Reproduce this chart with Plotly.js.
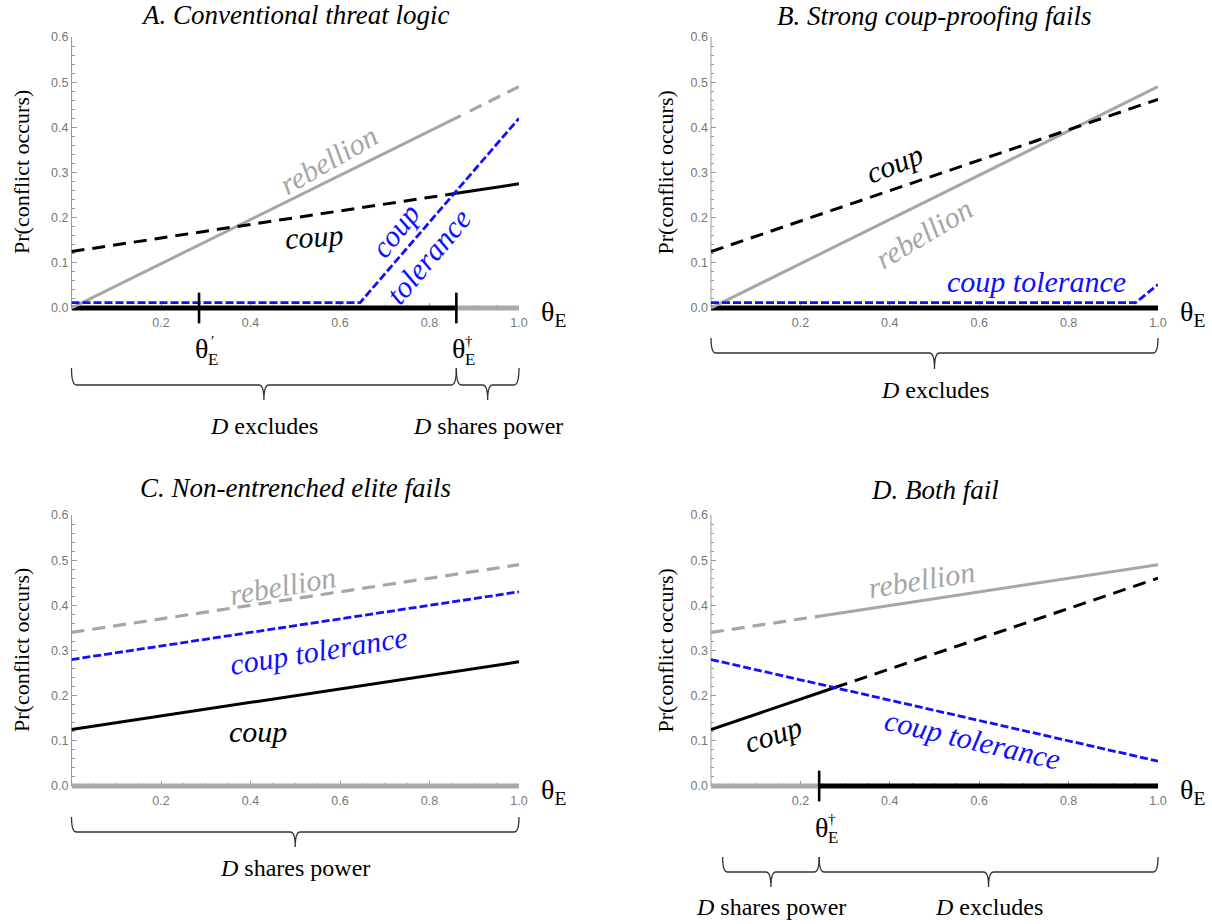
<!DOCTYPE html>
<html><head><meta charset="utf-8">
<script src="https://cdn.plot.ly/plotly-3.0.1.min.js"></script>
<style>body{margin:0;background:#fff}#chart{width:1212px;height:924px}</style>
</head><body><div id="chart"></div>
<script>
// ---------- data ----------
const xTickVals = [0.2, 0.4, 0.6, 0.8, 1.0];
const xTickText = ["0.2", "0.4", "0.6", "0.8", "1.0"];

// Panel A
const thetaPrimeA = 0.285, thetaDaggerA = 0.86;
const rebA_solid_x = [0, 0.87],  rebA_solid_y = [0, 0.426];
const rebA_dash_x  = [0.89, 1.0], rebA_dash_y = [0.436, 0.49];
const coupA_dash_x = [0, 0.86],  coupA_dash_y = [0.125, 0.254];
const coupA_solid_x = [0.86, 1.0], coupA_solid_y = [0.254, 0.275];
const tolA_x = [0, 0.645, 1.0],  tolA_y = [0.012, 0.012, 0.42];
const regA_black_x = [0, 0.86], regA_gray_x = [0.86, 1.0];

// Panel B
const rebB_x = [0, 1.0],  rebB_y = [0, 0.49];
const coupB_x = [0, 1.0], coupB_y = [0.125, 0.462];
const tolB_x = [0, 0.95, 1.0], tolB_y = [0.012, 0.012, 0.052];
const regB_black_x = [0, 1.0];

// Panel C
const rebC_x = [0, 1.0],  rebC_y = [0.34, 0.49];
const tolC_x = [0, 1.0],  tolC_y = [0.28, 0.43];
const coupC_x = [0, 1.0], coupC_y = [0.125, 0.275];
const regC_gray_x = [0, 1.0];

// Panel D
const thetaDaggerD = 0.242;
const rebD_dash_x = [0, 0.242],  rebD_dash_y = [0.34, 0.376];
const rebD_solid_x = [0.242, 1.0], rebD_solid_y = [0.376, 0.49];
const coupD_solid_x = [0, 0.277], coupD_solid_y = [0.125, 0.218];
const coupD_dash_x = [0.277, 1.0], coupD_dash_y = [0.218, 0.46];
const tolD_x = [0, 1.0], tolD_y = [0.28, 0.055];
const regD_gray_x = [0, 0.242], regD_black_x = [0.242, 1.0];

// ---------- styles ----------
const W = 1212, H = 924;
const GRAY = '#a6a6a6', BLACK = '#000000', BLUE = '#1010ff', REGGRAY = '#aaaaaa';
const SERIF = 'Liberation Serif, Times New Roman, serif';
const SANS = 'Liberation Sans, Arial, sans-serif';
const DASH_LONG = '13px,8px', DASH_BLUE = '8px,3px';
const LABEL_SIZE = 30, TITLE_SIZE = 27, BRACE_SIZE = 24, THETA_SIZE = 28;

function ln(x, y, ax, color, width, dash) {
  return {type: 'scatter', mode: 'lines', x: x, y: y, xaxis: 'x' + ax, yaxis: 'y' + ax,
    line: {color: color, width: width, dash: dash || 'solid'}, hoverinfo: 'skip', showlegend: false};
}
function zeros(x) { return x.map(() => 0); }
function ticksAt(xs, ax) {
  return {type: 'scatter', mode: 'markers', x: xs, y: zeros(xs), xaxis: 'x' + ax, yaxis: 'y' + ax,
    marker: {symbol: 'line-ns', size: 22, line: {color: BLACK, width: 2.6}}, cliponaxis: false,
    hoverinfo: 'skip', showlegend: false};
}

const traces = [
  // A
  ln(regA_black_x, zeros(regA_black_x), 1, BLACK, 5),
  ln(regA_gray_x, zeros(regA_gray_x), 1, REGGRAY, 5),
  ln(rebA_solid_x, rebA_solid_y, 1, GRAY, 3),
  ln(rebA_dash_x, rebA_dash_y, 1, GRAY, 3.2, DASH_LONG),
  ln(coupA_dash_x, coupA_dash_y, 1, BLACK, 3, DASH_LONG),
  ln(coupA_solid_x, coupA_solid_y, 1, BLACK, 3),
  ln(tolA_x, tolA_y, 1, BLUE, 2.8, DASH_BLUE),
  ticksAt([thetaPrimeA, thetaDaggerA], 1),
  // B
  ln(regB_black_x, zeros(regB_black_x), 2, BLACK, 5),
  ln(rebB_x, rebB_y, 2, GRAY, 3),
  ln(coupB_x, coupB_y, 2, BLACK, 3, DASH_LONG),
  ln(tolB_x, tolB_y, 2, BLUE, 2.8, DASH_BLUE),
  // C
  ln(regC_gray_x, zeros(regC_gray_x), 3, REGGRAY, 5),
  ln(rebC_x, rebC_y, 3, GRAY, 3.2, DASH_LONG),
  ln(tolC_x, tolC_y, 3, BLUE, 2.8, DASH_BLUE),
  ln(coupC_x, coupC_y, 3, BLACK, 3),
  // D
  ln(regD_gray_x, zeros(regD_gray_x), 4, REGGRAY, 5),
  ln(regD_black_x, zeros(regD_black_x), 4, BLACK, 5),
  ln(rebD_dash_x, rebD_dash_y, 4, GRAY, 3.2, DASH_LONG),
  ln(rebD_solid_x, rebD_solid_y, 4, GRAY, 3),
  ln(coupD_solid_x, coupD_solid_y, 4, BLACK, 3),
  ln(coupD_dash_x, coupD_dash_y, 4, BLACK, 3, DASH_LONG),
  ln(tolD_x, tolD_y, 4, BLUE, 2.8, DASH_BLUE),
  ticksAt([thetaDaggerD], 4)
];

// ---------- layout geometry (pixels -> paper) ----------
const py = p => 1 - p / H;
const YMIN = -0.015, YMAX = 0.6;
const PPU = 271 / 0.6;                 // pixels per y unit
const topZero = 308, botZero = 786;    // pixel row of y = 0
function ydom(zeroPx) {
  return [py(zeroPx - YMIN * PPU), py(zeroPx - YMAX * PPU)];
}
const leftDom = [71.5 / W, 519 / W], rightDom = [711 / W, 1158 / W];

function xaxis(domain, zeroPx) {
  return {domain: domain, range: [0, 1], anchor: 'free', position: py(zeroPx),
    showline: true, linecolor: '#9a9a9a', linewidth: 1, layer: 'below traces',
    ticks: 'inside', ticklen: 5, tickwidth: 1, tickcolor: '#9a9a9a',
    tickmode: 'array', tickvals: xTickVals, ticktext: xTickText, ticklabelstandoff: 3,
    tickfont: {family: SANS, size: 12.5, color: '#777777'},
    minor: {ticks: 'inside', ticklen: 3, tickmode: 'linear', tick0: 0, dtick: 0.05, tickcolor: '#9a9a9a', showgrid: false},
    showgrid: false, zeroline: false, fixedrange: true};
}
function yaxis(domain, xname) {
  return {domain: domain, range: [YMIN, YMAX], anchor: xname,
    showline: false, ticks: 'inside', ticklen: 5, tickwidth: 1, tickcolor: '#9a9a9a',
    tickmode: 'linear', tick0: 0, dtick: 0.1, tickformat: '.1f', ticklabelstandoff: 2,
    tickfont: {family: SANS, size: 12.5, color: '#777777'},
    minor: {ticks: 'inside', ticklen: 3, tickmode: 'linear', tick0: 0, dtick: 0.02, tickcolor: '#9a9a9a', showgrid: false},
    showgrid: false, zeroline: false, layer: 'below traces', fixedrange: true};
}

// ---------- annotations ----------
const anns = [];
function A(o) { anns.push(Object.assign({showarrow: false, xanchor: 'center', yanchor: 'middle'}, o)); }
function txt(ax, x, y, text, color, angle) {
  A({xref: 'x' + ax, yref: 'y' + ax, x: x, y: y, text: '<i>' + text + '</i>', textangle: angle || 0,
     font: {family: SERIF, size: LABEL_SIZE, color: color}});
}
const panels = [
  {ax: 1, title: 'A. Conventional threat logic', zero: topZero, tY: 15, ylabX: -50},
  {ax: 2, title: 'B. Strong coup-proofing fails', zero: topZero, tY: 16, ylabX: -46},
  {ax: 3, title: 'C. Non-entrenched elite fails', zero: botZero, tY: 488, ylabX: -50},
  {ax: 4, title: 'D. Both fail', zero: botZero, tY: 490, ylabX: -46}
];
panels.forEach(p => {
  A({xref: 'x' + p.ax + ' domain', yref: 'paper', x: 0.5, y: py(p.tY), text: '<i>' + p.title + '</i>',
     font: {family: SERIF, size: TITLE_SIZE, color: '#000'}});
  A({xref: 'x' + p.ax + ' domain', yref: 'y' + p.ax, x: 0, xshift: p.ylabX, y: 0.3, text: 'Pr(conflict occurs)',
     textangle: -90, font: {family: SERIF, size: 22, color: '#000'}});
  A({xref: 'x' + p.ax, yref: 'paper', x: 1, xshift: 20, xanchor: 'left', y: py(p.zero + 5),
     text: 'θ<sub>E</sub>', font: {family: SERIF, size: THETA_SIZE, color: '#000'}});
});

// curve labels
txt(1, 0.575, 0.328, 'rebellion', GRAY, -30);
txt(1, 0.543, 0.158, 'coup', BLACK, -4);
txt(1, 0.723, 0.172, 'coup', BLUE, -52);
txt(1, 0.797, 0.114, 'tolerance', BLUE, -50);

txt(2, 0.409, 0.321, 'coup', BLACK, -22);
txt(2, 0.475, 0.166, 'rebellion', GRAY, -31);
txt(2, 0.729, 0.058, 'coup tolerance', BLUE, 0);

txt(3, 0.472, 0.445, 'rebellion', GRAY, -10);
txt(3, 0.553, 0.301, 'coup tolerance', BLUE, -9);
txt(3, 0.417, 0.120, 'coup', BLACK, 0);

txt(4, 0.471, 0.458, 'rebellion', GRAY, -9);
txt(4, 0.138, 0.113, 'coup', BLACK, -18);
txt(4, 0.585, 0.102, 'coup tolerance', BLUE, 13);

// theta threshold labels (theta with stacked superscript and subscript)
function thetaLabel(ax, xv, zeroPx, sup) {
  A({xref: 'x' + ax, yref: 'paper', x: xv, xshift: 2, y: py(zeroPx + 41), text: 'θ',
     font: {family: SERIF, size: THETA_SIZE, color: '#000'}});
  A({xref: 'x' + ax, yref: 'paper', x: xv, xshift: 14, y: py(zeroPx + 51), text: 'E',
     font: {family: SERIF, size: 17, color: '#000'}});
  A({xref: 'x' + ax, yref: 'paper', x: xv, xshift: 13, y: py(zeroPx + 33), text: sup,
     font: {family: SERIF, size: 15, color: '#000'}});
}
thetaLabel(1, thetaPrimeA, topZero, '′');
thetaLabel(1, thetaDaggerA, topZero, '†');
thetaLabel(4, thetaDaggerD, botZero, '†');

// braces
const shapes = [];
function brace(ax, x0, x1, topPx, midPx, tipPx, label, labelPx) {
  const r = 0.011, xm = (x0 + x1) / 2;
  const yT = py(topPx), yM = py(midPx), yP = py(tipPx);
  const path = `M${x0},${yT} Q${x0},${yM} ${x0 + r},${yM} L${xm - r},${yM} Q${xm},${yM} ${xm},${yP} ` +
               `Q${xm},${yM} ${xm + r},${yM} L${x1 - r},${yM} Q${x1},${yM} ${x1},${yT}`;
  shapes.push({type: 'path', xref: 'x' + ax + ' domain', yref: 'paper', path: path,
    line: {color: '#333', width: 1.3}});
  A({xref: 'x' + ax + ' domain', yref: 'paper', x: xm, y: py(labelPx), text: label,
     font: {family: SERIF, size: BRACE_SIZE, color: '#000'}});
}
brace(1, 0, thetaDaggerA, 368, 385, 400, '<i>D</i> excludes', 426);
brace(1, thetaDaggerA, 1, 368, 385, 400, '<i>D</i> shares power', 426);
brace(2, 0, 1, 338, 353, 369, '<i>D</i> excludes', 390);
brace(3, 0, 1, 817, 832, 847, '<i>D</i> shares power', 868);
brace(4, 0.026, thetaDaggerD, 857, 872, 887, '<i>D</i> shares power', 907);
brace(4, thetaDaggerD, 1, 857, 872, 887, '<i>D</i> excludes', 907);

// y axis lines from 0 to 0.6
[1, 2, 3, 4].forEach(ax => {
  shapes.push({type: 'line', xref: 'x' + ax + ' domain', yref: 'y' + ax, x0: 0, x1: 0, y0: 0, y1: 0.6,
    line: {color: '#9a9a9a', width: 1}, layer: 'below'});
});

const layout = {
  width: W, height: H, margin: {l: 0, r: 0, t: 0, b: 0},
  paper_bgcolor: '#fff', plot_bgcolor: 'rgba(0,0,0,0)', showlegend: false,
  xaxis: xaxis(leftDom, topZero),  yaxis: yaxis(ydom(topZero), 'x'),
  xaxis2: xaxis(rightDom, topZero), yaxis2: yaxis(ydom(topZero), 'x2'),
  xaxis3: xaxis(leftDom, botZero),  yaxis3: yaxis(ydom(botZero), 'x3'),
  xaxis4: xaxis(rightDom, botZero), yaxis4: yaxis(ydom(botZero), 'x4'),
  annotations: anns, shapes: shapes
};
Plotly.newPlot('chart', traces, layout, {staticPlot: true, displayModeBar: false});
</script>
</body></html>
